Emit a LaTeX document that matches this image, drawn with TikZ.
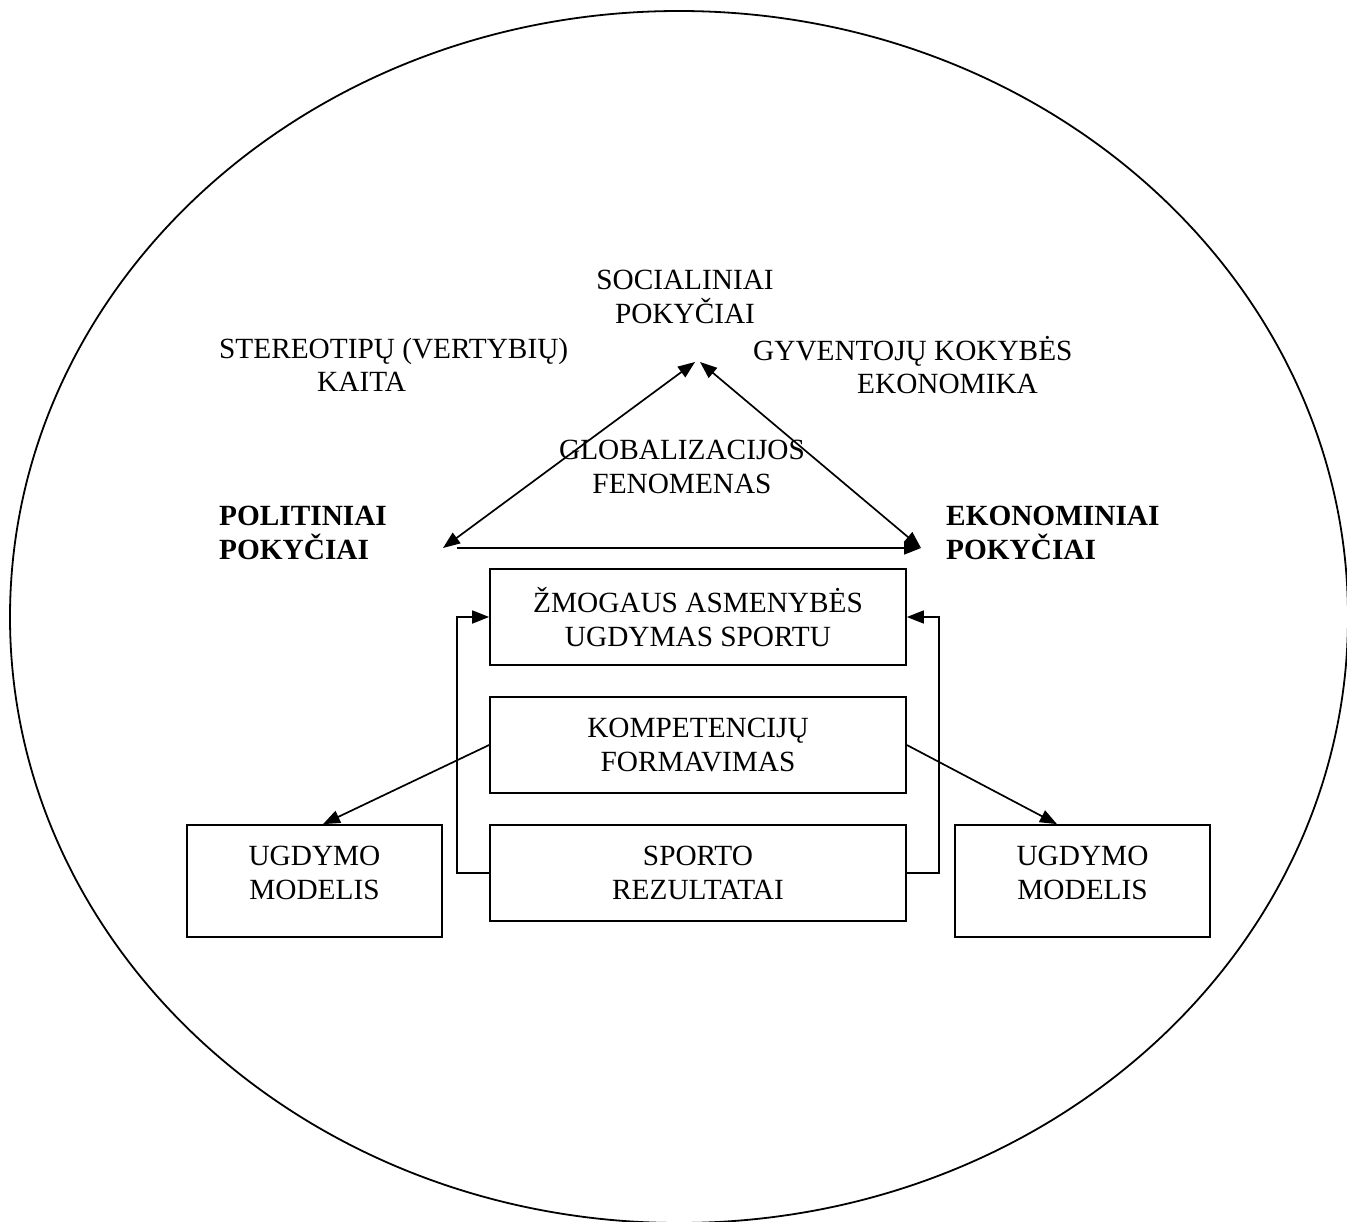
\documentclass[tikz,border=0pt]{standalone}
\usepackage{fontspec}
\setmainfont{Liberation Serif}
\usetikzlibrary{arrows.meta}
\begin{document}
\begin{tikzpicture}[x=1pt,y=-1pt,
  every node/.style={font=\fontsize{29.3}{33.5}\selectfont},
  ln/.style={line width=1.7pt},
  tip/.style={ln,-{Triangle[length=17pt,width=13pt]}},
  dtip/.style={ln,{Triangle[length=17pt,width=13pt]}-{Triangle[length=17pt,width=13pt]}},
  txt/.style={align=center,inner sep=0pt},
  ltxt/.style={align=left,inner sep=0pt,anchor=west},
  cbox/.style={draw,ln,minimum width=416pt,minimum height=96pt,align=center,inner sep=0pt},
  sbox/.style={draw,ln,minimum width=255pt,minimum height=112pt,inner sep=0pt}
]
\useasboundingbox (0,0) rectangle (1347,1222);
\begin{scope}
\clip (0,0) rectangle (1347,1222);
\draw[line width=1.8pt] (679,617) ellipse [x radius=669, y radius=606];
\end{scope}

% texts
\node[txt] (soc) at (685,297) {SOCIALINIAI\\POKYČIAI};
\node[ltxt] (ster) at (219,365) {STEREOTIPŲ (VERTYBIŲ)\\\hspace*{98pt}KAITA};
\node[ltxt] (gyv) at (753,365) {GYVENTOJŲ KOKYBĖS\\\hspace*{104pt}EKONOMIKA};
\node[txt] (glob) at (682,467) {GLOBALIZACIJOS\\FENOMENAS};
\node[ltxt,font=\fontsize{29.3}{33.5}\selectfont\bfseries] (pol) at (219,533) {POLITINIAI\\POKYČIAI};
\node[ltxt,font=\fontsize{29.3}{33.5}\selectfont\bfseries] (eko) at (946,533) {EKONOMINIAI\\POKYČIAI};

% triangle
\coordinate (apexL) at (695,362);
\coordinate (apexR) at (700,362);
\coordinate (pl) at (443,548);
\coordinate (er) at (921,548);
\coordinate (hs) at (457,548);
\draw[dtip] (pl) -- (apexL);
\draw[dtip] (er) -- (apexR);
\draw[tip] (hs) -- (er);

% central boxes
\node[cbox] (zm) at (698,617) {ŽMOGAUS ASMENYBĖS\\UGDYMAS SPORTU};
\node[cbox] (komp) at (698,745) {KOMPETENCIJŲ\\FORMAVIMAS};
\node[cbox] (sport) at (698,873) {SPORTO\\REZULTATAI};

% side boxes
\node[sbox] (ugl) at (314.5,881) {};
\node[txt] (uglt) at ([yshift=8pt]ugl.center) {UGDYMO\\MODELIS};
\node[sbox] (ugr) at (1082.5,881) {};
\node[txt] (ugrt) at ([yshift=8pt]ugr.center) {UGDYMO\\MODELIS};

% loops
\draw[tip] (sport.west) -- ++(-32,0) |- (zm.west);
\draw[tip] (sport.east) -- ++(32,0) |- (zm.east);

% diagonals
\draw[tip] (komp.west) -- ([xshift=8.5pt]ugl.north);
\draw[tip] (komp.east) -- ([xshift=-25.5pt]ugr.north);
\end{tikzpicture}
\end{document}
